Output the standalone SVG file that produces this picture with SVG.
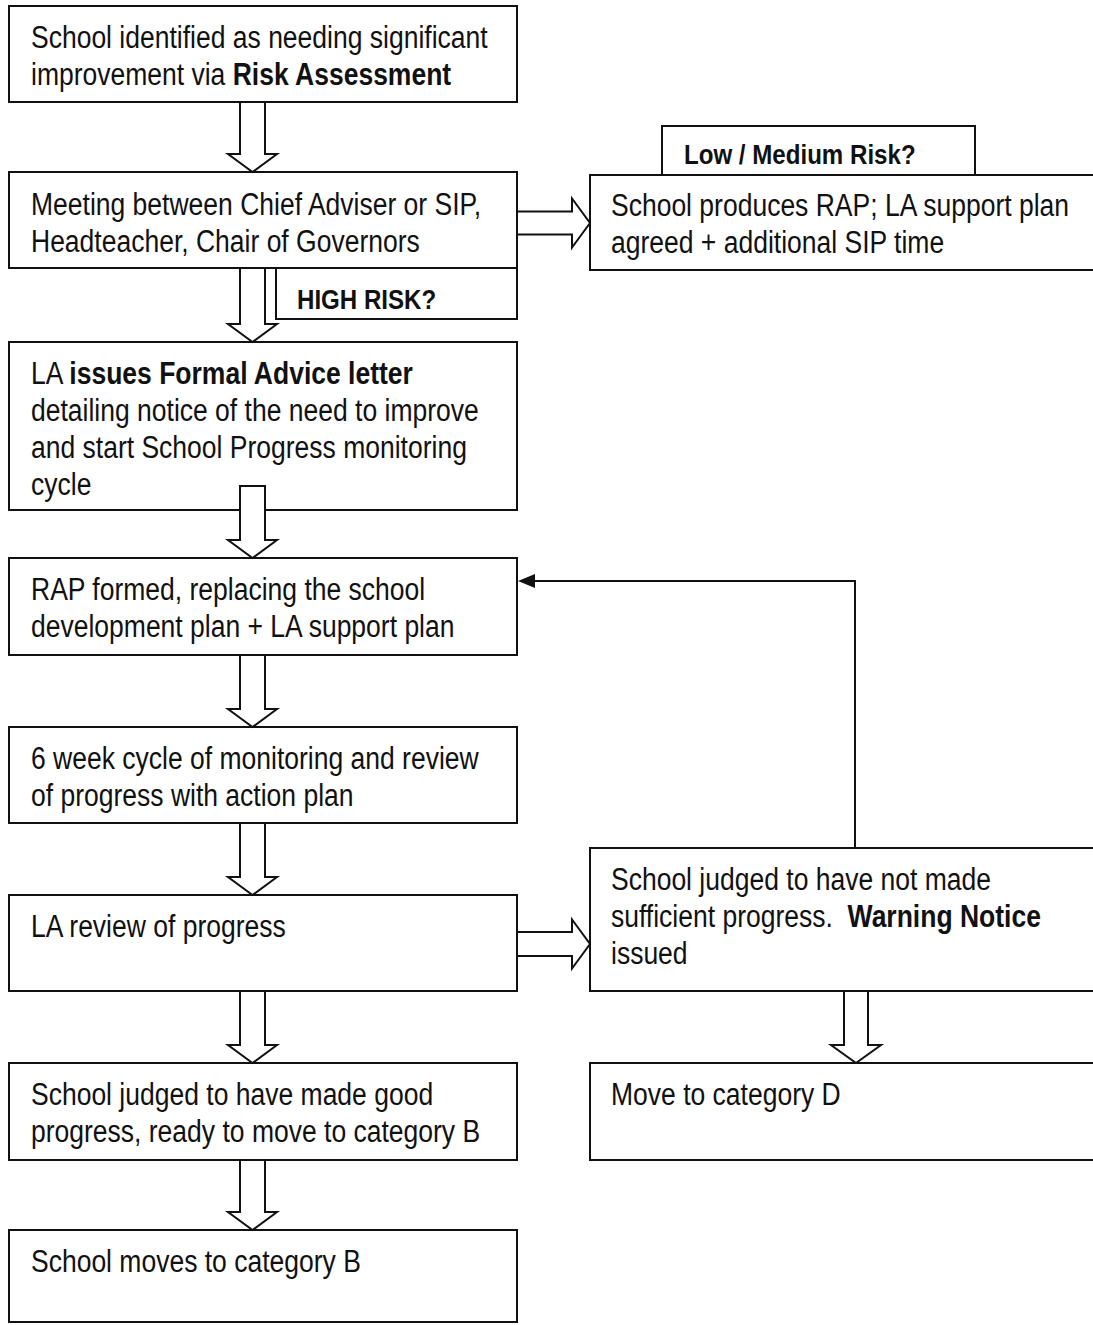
<svg xmlns="http://www.w3.org/2000/svg" width="1093" height="1325" viewBox="0 0 1093 1325">
<defs>
<style>
.box{fill:#fff;stroke:#111;stroke-width:2}
.ba{fill:#fff;stroke:#111;stroke-width:2;stroke-linejoin:miter}
.ln{fill:none;stroke:#111;stroke-width:2}
.t{font-family:"Liberation Sans",Arial,sans-serif;font-size:31px;fill:#111}
.b{font-weight:bold}
.lbl{font-size:28.2px}
</style>
</defs>
<rect width="1093" height="1325" fill="#fff"/>
<g id="nodes">
<g id="n1">
<rect class="box" x="9" y="6" width="508" height="96"/>
<text class="t" transform="translate(31 48) scale(0.855 1)">School identified as needing significant</text>
<text class="t" transform="translate(31 85) scale(0.855 1)">improvement via <tspan class="b">Risk Assessment</tspan></text>
</g>
<g id="n2">
<rect class="box" x="9" y="172" width="508" height="96"/>
<text class="t" transform="translate(31 215) scale(0.855 1)">Meeting between Chief Adviser or SIP,</text>
<text class="t" transform="translate(31 252) scale(0.855 1)">Headteacher, Chair of Governors</text>
</g>
<g id="tabLow">
<rect class="box" x="662" y="126" width="313" height="49"/>
<text class="t b lbl" transform="translate(684 164) scale(0.855 1)">Low / Medium Risk?</text>
</g>
<g id="nLow">
<rect class="box" x="590" y="175" width="520" height="95"/>
<text class="t" transform="translate(611 216) scale(0.855 1)">School produces RAP; LA support plan</text>
<text class="t" transform="translate(611 253) scale(0.855 1)">agreed + additional SIP time</text>
</g>
<g id="tabHigh">
<rect class="box" x="276" y="268" width="241" height="51"/>
<text class="t b lbl" transform="translate(297 309) scale(0.855 1)">HIGH RISK?</text>
</g>
<g id="n3">
<rect class="box" x="9" y="342" width="508" height="168"/>
<text class="t" transform="translate(31 384) scale(0.855 1)">LA <tspan class="b">issues Formal Advice letter</tspan></text>
<text class="t" transform="translate(31 421) scale(0.855 1)">detailing notice of the need to improve</text>
<text class="t" transform="translate(31 458) scale(0.855 1)">and start School Progress monitoring</text>
<text class="t" transform="translate(31 495) scale(0.855 1)">cycle</text>
</g>
<g id="n4">
<rect class="box" x="9" y="558" width="508" height="97"/>
<text class="t" transform="translate(31 600) scale(0.855 1)">RAP formed, replacing the school</text>
<text class="t" transform="translate(31 637) scale(0.855 1)">development plan + LA support plan</text>
</g>
<g id="n5">
<rect class="box" x="9" y="727" width="508" height="96"/>
<text class="t" transform="translate(31 769) scale(0.855 1)">6 week cycle of monitoring and review</text>
<text class="t" transform="translate(31 806) scale(0.855 1)">of progress with action plan</text>
</g>
<g id="n6">
<rect class="box" x="9" y="895" width="508" height="96"/>
<text class="t" transform="translate(31 937) scale(0.855 1)">LA review of progress</text>
</g>
<g id="nWarn">
<rect class="box" x="590" y="848" width="520" height="143"/>
<text class="t" transform="translate(611 890) scale(0.855 1)">School judged to have not made</text>
<text class="t" xml:space="preserve" transform="translate(611 927) scale(0.855 1)">sufficient progress.  <tspan class="b">Warning Notice</tspan></text>
<text class="t" transform="translate(611 964) scale(0.855 1)">issued</text>
</g>
<g id="n7">
<rect class="box" x="9" y="1063" width="508" height="97"/>
<text class="t" transform="translate(31 1105) scale(0.855 1)">School judged to have made good</text>
<text class="t" transform="translate(31 1142) scale(0.855 1)">progress, ready to move to category B</text>
</g>
<g id="nD">
<rect class="box" x="590" y="1063" width="520" height="97"/>
<text class="t" transform="translate(611 1105) scale(0.855 1)">Move to category D</text>
</g>
<g id="n8">
<rect class="box" x="9" y="1230" width="508" height="92"/>
<text class="t" transform="translate(31 1272) scale(0.855 1)">School moves to category B</text>
</g>
</g>
<g id="connectors">
<polygon class="ba" points="240,102 265,102 265,154 277,154 252.5,172 228,154 240,154"/>
<polygon class="ba" points="240,268 265,268 265,324 277,324 252.5,342 228,324 240,324"/>
<polygon class="ba" points="240,486 265,486 265,540 277,540 252.5,558 228,540 240,540"/>
<polygon class="ba" points="240,655 265,655 265,709 277,709 252.5,727 228,709 240,709"/>
<polygon class="ba" points="240,823 265,823 265,877 277,877 252.5,895 228,877 240,877"/>
<polygon class="ba" points="240,991 265,991 265,1045 277,1045 252.5,1063 228,1045 240,1045"/>
<polygon class="ba" points="240,1160 265,1160 265,1212 277,1212 252.5,1230 228,1212 240,1212"/>
<polygon class="ba" points="844,991 868,991 868,1045 881,1045 856,1063 831,1045 844,1045"/>
<polygon class="ba" points="517,211.5 572,211.5 572,198.5 590,223 572,247.5 572,234.5 517,234.5"/>
<polygon class="ba" points="517,932 572,932 572,919.5 590,944 572,968.5 572,956 517,956"/>
<path class="ln" d="M855 848 V581 H532"/>
<polygon points="518,581 535,574 535,588" fill="#111"/>
</g>
</svg>
